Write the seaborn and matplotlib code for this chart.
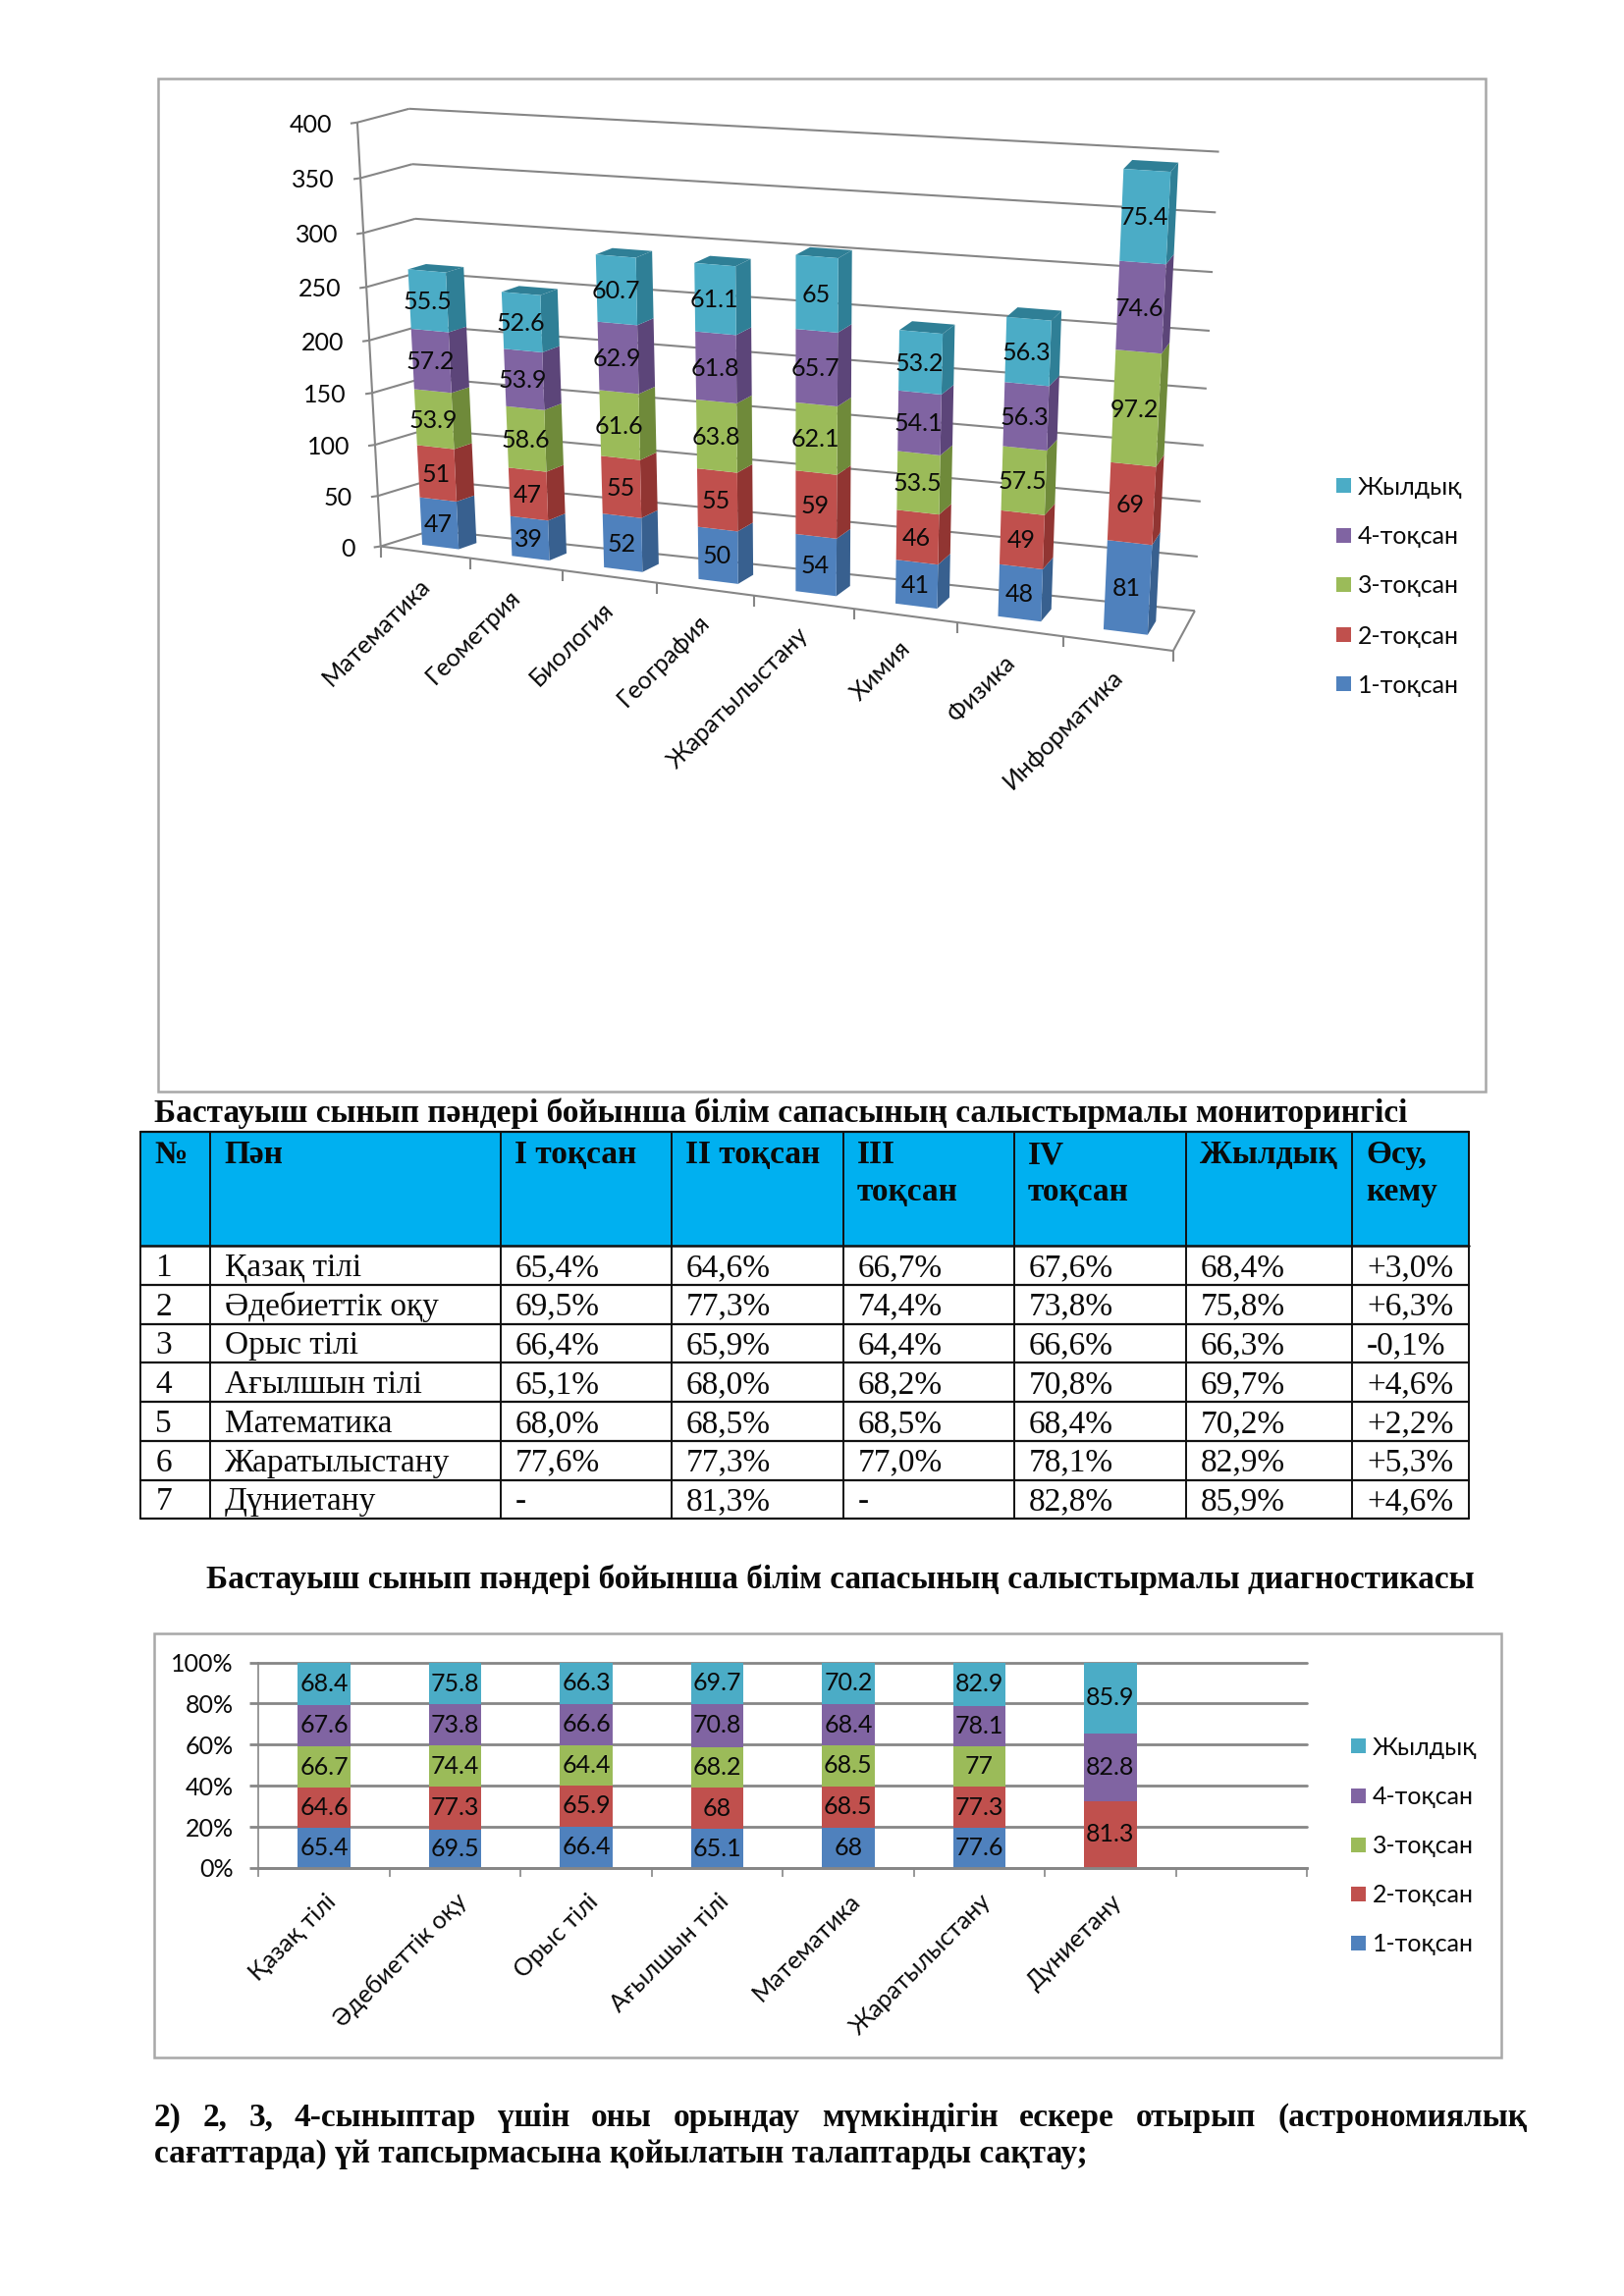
import numpy as np
import pandas as pd
import matplotlib
matplotlib.use("Agg")
import matplotlib.pyplot as plt
from matplotlib.patches import Polygon, Rectangle
import seaborn as sns

sns.set_theme(style="white")
SANS = ["Lato", "Noto Sans", "DejaVu Sans"]
SERIF = ["Liberation Serif", "DejaVu Serif"]
plt.rcParams["font.family"] = SANS

W, H = 1654, 2339
fig = plt.figure(figsize=(W / 200, H / 200), dpi=200, facecolor="white")
page = fig.add_axes([0, 0, 1, 1], zorder=0)
page.set_xlim(0, W)
page.set_ylim(H, 0)
page.axis("off")

# ---------- data ----------
series = ["1-тоқсан", "2-тоқсан", "3-тоқсан", "4-тоқсан", "Жылдық"]
colors = ["#4F81BD", "#C0504D", "#9BBB59", "#8064A2", "#4BACC6"]
side_colors = ["#38608F", "#913532", "#6F8A3A", "#5C4579", "#2F7F96"]
top_color = "#2F7F96"

subjects1 = ["Математика", "Геометрия", "Биология", "География",
             "Жаратылыстану", "Химия", "Физика", "Информатика"]
q1_a = [47, 39, 52, 50, 54, 41, 48, 81]
q2_a = [51, 47, 55, 55, 59, 46, 49, 69]
q3_a = [53.9, 58.6, 61.6, 63.8, 62.1, 53.5, 57.5, 97.2]
q4_a = [57.2, 53.9, 62.9, 61.8, 65.7, 54.1, 56.3, 74.6]
yr_a = [55.5, 52.6, 60.7, 61.1, 65, 53.2, 56.3, 75.4]
yticks1 = [0, 50, 100, 150, 200, 250, 300, 350, 400]

subjects2 = ["Қазақ тілі", "Әдебиеттік оқу", "Орыс тілі", "Ағылшын тілі",
             "Математика", "Жаратылыстану", "Дүниетану", " "]
q1_b = [65.4, 69.5, 66.4, 65.1, 68, 77.6, 0, 0]
q2_b = [64.6, 77.3, 65.9, 68, 68.5, 77.3, 81.3, 0]
q3_b = [66.7, 74.4, 64.4, 68.2, 68.5, 77, 0, 0]
q4_b = [67.6, 73.8, 66.6, 70.8, 68.4, 78.1, 82.8, 0]
yr_b = [68.4, 75.8, 66.3, 69.7, 70.2, 82.9, 85.9, 0]

table_head = ["№", "Пән", "І тоқсан", "ІІ тоқсан", "ІІІ\nтоқсан", "ІV\nтоқсан", "Жылдық", "Өсу,\nкему"]
table_rows = [
    ["1", "Қазақ тілі", "65,4%", "64,6%", "66,7%", "67,6%", "68,4%", "+3,0%"],
    ["2", "Әдебиеттік оқу", "69,5%", "77,3%", "74,4%", "73,8%", "75,8%", "+6,3%"],
    ["3", "Орыс тілі", "66,4%", "65,9%", "64,4%", "66,6%", "66,3%", "-0,1%"],
    ["4", "Ағылшын тілі", "65,1%", "68,0%", "68,2%", "70,8%", "69,7%", "+4,6%"],
    ["5", "Математика", "68,0%", "68,5%", "68,5%", "68,4%", "70,2%", "+2,2%"],
    ["6", "Жаратылыстану", "77,6%", "77,3%", "77,0%", "78,1%", "82,9%", "+5,3%"],
    ["7", "Дүниетану", "-", "81,3%", "-", "82,8%", "85,9%", "+4,6%"],
]
title1 = "Бастауыш сынып пәндері бойынша білім сапасының салыстырмалы мониторингісі"
title2 = "Бастауыш сынып пәндері бойынша білім сапасының салыстырмалы диагностикасы"
para1 = "2) 2, 3, 4-сыныптар үшін оны орындау мүмкіндігін ескере отырып (астрономиялық"
para2 = "сағаттарда) үй тапсырмасына қойылатын талаптарды сақтау;"

GRID = "#868686"
FRAME = "#A8A8A8"
TXT = "#0A0A0A"
LBL = 9.0
BODY = 12.02

# ---------- 3-D chart ----------
page.add_patch(Rectangle((161, 80), 1352, 1032, fc="white", ec=FRAME, lw=0.9))


def zoom_pt(zx, zy):
    return (150 + zx / 1.136, 70 + zy / 2.01)


def homography(src, dst):
    A, b = [], []
    for (u, v), (x, y) in zip(src, dst):
        A.append([u, v, 1, 0, 0, 0, -u * x, -v * x])
        A.append([0, 0, 0, u, v, 1, -u * y, -v * y])
        b += [x, y]
    h = np.linalg.solve(np.array(A, float), np.array(b, float))
    return np.append(h, 1).reshape(3, 3)


n_cat = len(subjects1)
vmax = yticks1[-1]
src = [(0, 0), (0, vmax), (n_cat, vmax), (n_cat, 0)]
H_front = homography(src, [zoom_pt(270, 978), zoom_pt(243, 110), zoom_pt(1217, 225), zoom_pt(1187, 1192)])
H_back = homography(src, [zoom_pt(330, 945), zoom_pt(303, 82), zoom_pt(1240, 170), zoom_pt(1212, 1110)])


def proj(u, v, d=0.0):
    def ap(M):
        p = M @ np.array([u, v, 1.0])
        return p[:2] / p[2]
    return tuple((1 - d) * ap(H_front) + d * ap(H_back))


def seg(p, q, color=GRID, lw=0.75, z=1):
    page.plot([p[0], q[0]], [p[1], q[1]], color=color, lw=lw, zorder=z, solid_capstyle="butt")


for t in yticks1:
    seg(proj(0, t, 0), proj(0, t, 1))
    seg(proj(0, t, 1), proj(n_cat, t, 1))
    a = proj(0, t, 0)
    seg((a[0] - 7, a[1] + 1), a)
    page.text(a[0] - 26, a[1] + 2.5, str(t), ha="right", va="center", fontsize=LBL, color=TXT)
seg(proj(0, 0, 0), proj(0, vmax, 0))
seg(proj(0, 0, 0), proj(n_cat, 0, 0))
seg(proj(n_cat, 0, 0), proj(n_cat, 0, 1))
for i in range(n_cat + 1):
    a = proj(i, 0, 0)
    seg(a, (a[0], a[1] + 11))

d0, d1 = 0.30, 0.65
hw = 0.205
stack_a = np.array([q1_a, q2_a, q3_a, q4_a, yr_a], float)
for i in range(n_cat):
    u0, u1 = i + 0.5 - hw, i + 0.5 + hw
    base = 0.0
    for s in range(len(series)):
        val = stack_a[s, i]
        v0, v1 = base, base + val
        z = 3 + i * 0.1
        page.add_patch(Polygon([proj(u1, v0, d0), proj(u1, v1, d0), proj(u1, v1, d1), proj(u1, v0, d1)],
                               closed=True, fc=side_colors[s], ec="none", zorder=z))
        page.add_patch(Polygon([proj(u0, v0, d0), proj(u0, v1, d0), proj(u1, v1, d0), proj(u1, v0, d0)],
                               closed=True, fc=colors[s], ec="none", zorder=z + 0.01))
        base = v1
    page.add_patch(Polygon([proj(u0, base, d0), proj(u1, base, d0), proj(u1, base, d1), proj(u0, base, d1)],
                           closed=True, fc=top_color, ec="none", zorder=3 + i * 0.1))
    base = 0.0
    for s in range(len(series)):
        val = stack_a[s, i]
        c = proj(i + 0.5, base + val / 2, d0)
        page.text(c[0] - 1, c[1] + 1, f"{val:g}", ha="center", va="center", fontsize=LBL, color=TXT, zorder=9)
        base += val
    a = proj(i + 0.5, 0, 0)
    page.text(a[0] + 1, a[1] + 30, subjects1[i], rotation=45, rotation_mode="anchor",
              ha="right", va="center", fontsize=LBL, color=TXT, zorder=9)


def legend_manual(x, ys):
    for s, y in zip(range(len(series) - 1, -1, -1), ys):
        page.add_patch(Rectangle((x, y - 8), 15, 15, fc=colors[s], ec="none"))
        page.text(x + 22, y + 1, series[s], ha="left", va="center", fontsize=LBL, color=TXT)


legend_manual(1361, [495, 546, 596, 647, 697])

# ---------- table ----------
page.text(157, 1143, title1, fontsize=BODY, fontweight="bold", family=SERIF, color=TXT, va="baseline")
xs = [142.5, 214, 510, 684, 858.5, 1032.5, 1207.5, 1377, 1496]
ys = [1153, 1269, 1309, 1348.7, 1388, 1428, 1468, 1507.7, 1547]
page.add_patch(Rectangle((xs[0], ys[0]), xs[-1] - xs[0], ys[1] - ys[0], fc="#00B0F0", ec="none", zorder=1))
for x in xs:
    page.plot([x, x], [ys[0], ys[-1]], color="#111111", lw=0.7, zorder=2)
for i, y in enumerate(ys):
    page.plot([xs[0], xs[-1]], [y, y], color="#111111", lw=0.8 if i != 1 else 0.9, zorder=2)
for c, label in enumerate(table_head):
    for k, part in enumerate(label.split("\n")):
        page.text(xs[c] + (14 if c else 15), 1185 + k * 38, part, fontsize=BODY, fontweight="bold",
                  family=SERIF, color=TXT, va="baseline", zorder=3)
for r, row in enumerate(table_rows):
    for c, cell in enumerate(row):
        page.text(xs[c] + (15 if c else 16), ys[r + 2] - 9, cell, fontsize=BODY, family=SERIF,
                  color=TXT, va="baseline", zorder=3)

page.text(210, 1618, title2, fontsize=BODY, fontweight="bold", family=SERIF, color=TXT, va="baseline")

# ---------- 100 % chart ----------
page.add_patch(Rectangle((157, 1664), 1371.5, 432, fc="white", ec=FRAME, lw=0.9))
ax = fig.add_axes([263.4 / W, 1 - 1903 / H, (1331 - 263.4) / W, (1903 - 1693.6) / H], zorder=2)
ax.patch.set_alpha(0)
stack_b = np.array([q1_b, q2_b, q3_b, q4_b, yr_b], float)
tot = stack_b.sum(axis=0)
share = np.divide(stack_b, tot, out=np.zeros_like(stack_b), where=tot > 0)
bottom = np.zeros(len(subjects2))
for s in range(len(series)):
    df = pd.DataFrame({"subject": subjects2, "share": share[s]})
    sns.barplot(data=df, x="subject", y="share", order=subjects2, color=colors[s], saturation=1,
                width=0.4, bottom=bottom, ax=ax, zorder=3, errorbar=None, linewidth=0, edgecolor="none")
    for i in range(len(subjects2)):
        if stack_b[s, i] > 0:
            ax.text(i, bottom[i] + share[s, i] / 2, f"{stack_b[s, i]:g}", ha="center", va="center",
                    fontsize=LBL, color=TXT, zorder=5)
    bottom = bottom + share[s]
ax.set_xlim(-0.5, 7.5)
ax.set_ylim(0, 1)
ax.set_xlabel("")
ax.set_ylabel("")
ax.set_yticks(np.arange(0, 1.01, 0.2))
ax.set_yticklabels([f"{int(round(t * 100))}%" for t in np.arange(0, 1.01, 0.2)], fontsize=LBL, color=TXT)
ax.set_xticks(range(len(subjects2)))
ax.set_xticklabels(subjects2, rotation=45, ha="right", rotation_mode="anchor", fontsize=LBL, color=TXT)
ax.set_xticks(np.arange(-0.5, 8, 1), minor=True)
ax.tick_params(axis="x", which="major", length=0, pad=8)
ax.tick_params(axis="x", which="minor", length=3.2, width=0.6, color=GRID, bottom=True)
ax.tick_params(axis="y", length=3.2, width=1.0, color=GRID, pad=6, left=True)
ax.grid(axis="y", color=GRID, lw=1.0, zorder=1)
for gl in ax.get_ygridlines():
    gl.set_clip_on(False)
ax.set_axisbelow(True)
for name, sp in ax.spines.items():
    sp.set_visible(name in ("left", "bottom"))
    sp.set_color(GRID)
    sp.set_linewidth(1.0 if name == "bottom" else 0.6)
    sp.set_zorder(4 if name == "bottom" else 1)
legend_manual(1376, [1779, 1830, 1880, 1930, 1980])

# ---------- paragraph ----------
fig.canvas.draw()
renderer = fig.canvas.get_renderer()


def justified(line, x0, x1, y):
    words = line.split(" ")
    arts = [page.text(0, y, w, fontsize=BODY, fontweight="bold", family=SERIF, color=TXT, va="baseline") for w in words]
    widths = [a.get_window_extent(renderer).width * W / fig.bbox.width for a in arts]
    gap = (x1 - x0 - sum(widths)) / (len(words) - 1)
    x = x0
    for a, wd in zip(arts, widths):
        a.set_x(x)
        x += wd + gap


justified(para1, 157, 1555, 2166)
page.text(157, 2203, para2, fontsize=BODY, fontweight="bold", family=SERIF, color=TXT, va="baseline")

fig.savefig("out.png", dpi=200, facecolor="white")
